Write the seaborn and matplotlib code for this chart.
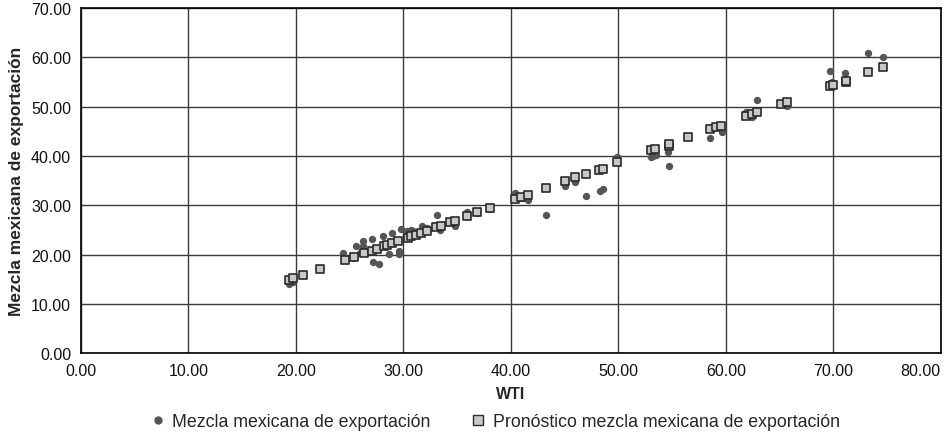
import matplotlib
matplotlib.use("Agg")
import matplotlib.pyplot as plt
import matplotlib.transforms as mtransforms
import seaborn as sns
import pandas as pd
from matplotlib.lines import Line2D

# Actual values: Mezcla mexicana de exportación vs WTI
wti_real = [19.4, 19.7, 20.7, 22.2, 24.4, 24.6, 25.3, 25.6, 26.0, 26.2, 26.2, 27.1, 27.1, 27.2,
            27.7, 28.1, 28.7, 28.9, 29.6, 29.6, 29.8, 30.3, 30.7, 30.9, 31.7, 32.2, 33.1, 33.4,
            34.8, 35.9, 36.8, 38.1, 40.4, 40.9, 41.6, 43.3, 45.0, 46.0, 47.0, 48.3, 48.6, 49.9,
            53.0, 53.2, 53.5, 54.6, 54.7, 58.5, 59.6, 61.9, 62.4, 62.9, 65.7, 69.7, 69.9, 71.1,
            71.1, 73.2, 74.6]
mezcla_real = [14.0, 14.4, 15.9, 17.0, 20.3, 19.2, 19.3, 21.7, 20.3, 21.7, 22.7, 23.1, 20.9, 18.5,
               18.1, 23.7, 20.1, 24.3, 20.7, 20.1, 25.2, 24.7, 24.9, 24.7, 25.8, 25.3, 28.0, 25.0,
               25.8, 28.6, 28.4, 29.3, 32.5, 31.4, 31.0, 28.0, 33.9, 34.7, 31.8, 32.9, 33.3, 39.8,
               39.8, 40.0, 40.2, 40.8, 37.9, 43.6, 44.8, 48.9, 47.9, 51.3, 50.1, 57.2, 55.0, 56.8,
               55.2, 60.8, 60.0]

# Forecast values: Pronóstico mezcla mexicana de exportación
wti_pron = [19.4, 19.7, 20.7, 22.2, 24.6, 25.4, 26.3, 27.1, 27.5, 28.2, 28.5, 28.9, 29.5, 30.4,
            30.7, 31.2, 31.6, 32.2, 33.0, 33.5, 34.3, 34.8, 35.9, 36.8, 38.1, 40.4, 40.9, 41.6,
            43.3, 45.0, 46.0, 47.0, 48.2, 48.6, 49.9, 53.0, 53.4, 54.7, 54.7, 56.5, 58.5, 59.1,
            59.5, 61.9, 62.4, 62.9, 65.1, 65.7, 69.7, 70.0, 71.2, 71.2, 73.2, 74.6]
pronostico = [14.8, 15.2, 15.8, 17.0, 18.9, 19.6, 20.3, 20.7, 21.1, 21.7, 21.9, 22.3, 22.7, 23.3,
              23.7, 24.0, 24.3, 24.7, 25.5, 25.8, 26.6, 26.8, 27.8, 28.6, 29.4, 31.2, 31.6, 32.0,
              33.4, 34.9, 35.7, 36.3, 37.1, 37.3, 38.7, 41.2, 41.4, 42.1, 42.4, 43.8, 45.4, 45.8,
              46.0, 48.1, 48.5, 48.9, 50.5, 50.9, 54.2, 54.4, 55.0, 55.3, 57.0, 58.0]

x_ticks = [0, 10, 20, 30, 40, 50, 60, 70, 80]
y_ticks = [0, 10, 20, 30, 40, 50, 60, 70]

label_real = "Mezcla mexicana de exportación"
label_pron = "Pronóstico mezcla mexicana de exportación"

sns.set_theme(style="white")
plt.rcParams['font.family'] = ['Liberation Sans', 'DejaVu Sans']

df_real = pd.DataFrame({"WTI": wti_real, "Mezcla": mezcla_real})
df_pron = pd.DataFrame({"WTI": wti_pron, "Mezcla": pronostico})

fig = plt.figure(figsize=(9.47, 4.35), dpi=100)
ax = fig.add_axes([0.0855, 0.186, 0.908, 0.793])

sns.scatterplot(data=df_real, x="WTI", y="Mezcla", ax=ax, marker="o", s=28,
                color="#555555", edgecolor="#555555", linewidth=0, zorder=3)
sns.scatterplot(data=df_pron, x="WTI", y="Mezcla", ax=ax, marker="s", s=40,
                color="#c8c8c8", edgecolor="#2a2a2a", linewidth=1.2, zorder=4)

ax.set_xlim(0, 80)
ax.set_ylim(0, 70)
ax.set_xticks(x_ticks)
ax.set_yticks(y_ticks)
ax.set_xticklabels([f"{v:.2f}" for v in x_ticks], fontsize=11.5)
ax.set_yticklabels([f"{v:.2f}" for v in y_ticks], fontsize=11.5)
# keep last x label inside the figure (shifted left like the reference)
last = ax.get_xticklabels()[-1]
last.set_horizontalalignment("right")
last.set_transform(last.get_transform() +
                   mtransforms.ScaledTranslation(0.05, 0, fig.dpi_scale_trans))

ax.grid(True, color="#3a3a3a", linewidth=1.0)
ax.set_axisbelow(True)
for sp in ax.spines.values():
    sp.set_color("#000000")
    sp.set_linewidth(1.2)
ax.tick_params(axis="both", direction="out", length=4, width=1, color="#000000",
               pad=3, labelcolor="#111111")

ax.set_xlabel("WTI", fontsize=11.5, fontweight="bold", labelpad=6)
ax.set_ylabel("Mezcla mexicana de exportación", fontsize=12.5, fontweight="bold", labelpad=5)

handles = [
    Line2D([0], [0], marker="o", linestyle="none", markersize=5,
           markerfacecolor="#555555", markeredgecolor="#555555"),
    Line2D([0], [0], marker="s", linestyle="none", markersize=7,
           markerfacecolor="#c8c8c8", markeredgecolor="#2a2a2a", markeredgewidth=1.0),
]
fig.legend(handles, [label_real, label_pron], loc="lower center",
           bbox_to_anchor=(0.522, -0.028), ncol=2, frameon=False, fontsize=12.8,
           columnspacing=2.2, handletextpad=0.3, handlelength=1.0)

fig.savefig("out.png", dpi=100)
